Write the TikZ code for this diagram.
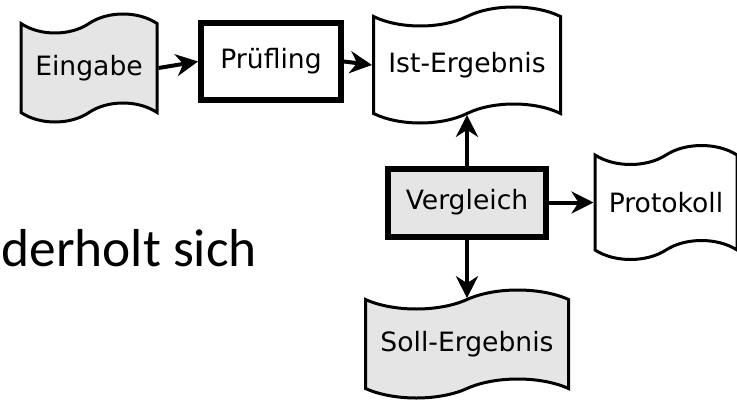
\documentclass[tikz,border=0pt]{standalone}
\usepackage{fontspec}
\setmainfont{DejaVu Sans}
\newfontfamily\calibri{Carlito}
\usetikzlibrary{shapes.symbols,arrows.meta}
\tikzset{
  doc/.style={tape, draw=black, line width=1.5pt, inner sep=0pt,
    tape bend height=9.5pt, font=\fontsize{13.3}{16}\selectfont},
  docgrau/.style={doc, fill=black!10},
  proc/.style={rectangle, draw=black, line width=3pt, inner sep=0pt,
    font=\fontsize{13.3}{16}\selectfont},
  pfeil/.style={-{Stealth[length=11pt,width=11pt,inset=3.5pt]}, line width=2pt}
}
\begin{document}
\begin{tikzpicture}[x=0.5pt,y=-0.5pt]
\useasboundingbox (0,0) rectangle (737,401);
% obere Reihe
\node[docgrau, minimum width=68pt, minimum height=54pt] (eingabe) at (89,68) {Eingabe};
\node[proc, fill=white, minimum width=70pt, minimum height=38pt] (pruefling) at (271,61.5) {Prüfling};
\node[doc, minimum width=93.5pt, minimum height=58pt] (ist) at (467,65) {Ist-Ergebnis};
% Vergleich und Ergebnisse
\node[proc, fill=black!10, minimum width=79pt, minimum height=34pt] (vergleich) at (467,202.5) {Vergleich};
\node[doc, minimum width=71pt, minimum height=57pt] (protokoll) at (666,202.5) {Protokoll};
\node[docgrau, minimum width=101.5pt, minimum height=54pt] (soll) at (467,344) {Soll-Ergebnis};
% Text links
\node[anchor=base west, inner sep=0pt, font=\calibri\fontsize{26.7}{30}\selectfont] (wiederholt) at (1,266) {derholt sich};
% Pfeile
\draw[pfeil] (eingabe.east) -- (pruefling.west);
\draw[pfeil] (pruefling.east) -- (ist.west);
\draw[pfeil] (vergleich.north) -- (ist.south);
\draw[pfeil] (vergleich.east) -- (protokoll.west);
\draw[pfeil] (vergleich.south) -- (soll.north);
\end{tikzpicture}
\end{document}
